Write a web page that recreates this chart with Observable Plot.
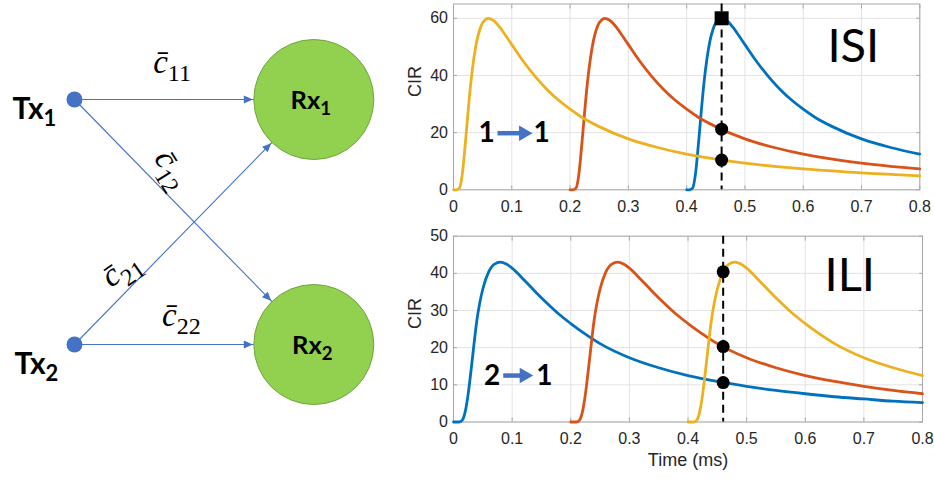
<!DOCTYPE html>
<html>
<head>
<meta charset="utf-8">
<script src="https://cdn.jsdelivr.net/npm/d3@7"></script>
<script src="https://cdn.jsdelivr.net/npm/@observablehq/plot@0.6"></script>
<style>
  body { margin: 0; background: #fff; }
  #fig { position: relative; width: 934px; height: 479px; overflow: hidden; background: #fff; }
  #fig > div { position: absolute; }
</style>
</head>
<body>
<div id="fig">
  <div id="net" style="left:0;top:0"></div>
  <div id="isi" style="left:400px;top:0"></div>
  <div id="ili" style="left:400px;top:222px"></div>
</div>
<script>
// ---- Link diagram: two transmitters, two receivers, four channels ----
const transmitters = [
  {id: "Tx1", name: "Tx_1", row: 1},
  {id: "Tx2", name: "Tx_2", row: 2}
];
const receivers = [
  {id: "Rx1", name: "Rx_1", row: 1},
  {id: "Rx2", name: "Rx_2", row: 2}
];
const channels = [
  {key: "11", from: 1, to: 1, label: "c\u0304_11"},
  {key: "12", from: 1, to: 2, label: "c\u0304_12"},
  {key: "21", from: 2, to: 1, label: "c\u0304_21"},
  {key: "22", from: 2, to: 2, label: "c\u0304_22"}
];

// ---- Channel impulse response of one released pulse, vs time since release (ms) ----
const pulseTime = [0, 0.005, 0.01, 0.015, 0.02, 0.025, 0.03, 0.035, 0.04, 0.045,
  0.05, 0.06, 0.07, 0.08, 0.09, 0.1, 0.12, 0.14, 0.16, 0.18,
  0.2, 0.22, 0.25, 0.3, 0.35, 0.4, 0.45, 0.5, 0.55, 0.6,
  0.65, 0.7, 0.75, 0.8];
// own link (1 -> 1)
const isiPulse = [0, 0, 0.5, 5.3, 15.5, 27.3, 37.9, 46.1, 52.1, 56.0,
  58.4, 60.0, 59.0, 56.7, 53.8, 50.8, 44.9, 39.7, 35.2, 31.4,
  28.2, 25.4, 22.1, 17.8, 14.8, 12.5, 10.7, 9.3, 8.2, 7.3,
  6.6, 5.9, 5.4, 4.9];
// cross link (2 -> 1)
const iliPulse = [0, 0, 0, 0.5, 2.8, 7.5, 14.0, 21.0, 27.5, 32.2,
  35.8, 40.4, 42.5, 43.0, 42.5, 41.4, 38.3, 35.0, 31.9, 29.0,
  26.5, 24.2, 21.1, 17.3, 14.6, 12.5, 10.9, 9.6, 8.5, 7.6,
  6.8, 6.2, 5.6, 5.2];
const releaseTimes = [0, 0.2, 0.4];
const isiColors = ["#EDB120", "#D95319", "#0072BD"];
const iliColors = ["#0072BD", "#D95319", "#EDB120"];

// Sampling instant and the sampled CIR values (one per pulse)
const sampleTime = 0.46;
const isiSamples = [60, 21.2, 10.4];
const isiSampleSymbols = ["square", "circle", "circle"];
const iliSamples = [40.4, 20.3, 10.6];
const iliSampleSymbols = ["circle", "circle", "circle"];

// Axes
const xTicks = [0, 0.1, 0.2, 0.3, 0.4, 0.5, 0.6, 0.7, 0.8];
const xTickLabels = ["0", "0.1", "0.2", "0.3", "0.4", "0.5", "0.6", "0.7", "0.8"];
const isiYTicks = [0, 20, 40, 60];
const iliYTicks = [0, 10, 20, 30, 40, 50];

// ---- styling ----
const ink = "#262626";
const gridColor = "#e3e3e3";
const boxColor = "#a8a8a8";
const linkBlue = "#4472C4";
const svgNS = "http://www.w3.org/2000/svg";

// Split "base_sub" texts into a base and a lowered, smaller subscript
function setSubscripts(svg) {
  d3.select(svg).selectAll("text").each(function () {
    const s = this.textContent;
    const k = s.indexOf("_");
    if (k < 0) return;
    const t = d3.select(this).text(null);
    t.append("tspan").text(s.slice(0, k));
    t.append("tspan")
      .style("font-size", "0.73em")
      .style("font-style", "normal")
      .attr("dy", "0.36em")
      .text(s.slice(k + 1));
  });
}

// Filled arrowhead whose tip stops `back` px before the end of the link
function arrowHead(back) {
  return (color) => {
    const m = document.createElementNS(svgNS, "marker");
    m.setAttribute("markerUnits", "userSpaceOnUse");
    m.setAttribute("orient", "auto");
    m.setAttribute("markerWidth", "12");
    m.setAttribute("markerHeight", "12");
    m.setAttribute("overflow", "visible");
    m.setAttribute("refX", String(back));
    m.setAttribute("refY", "0");
    const p = document.createElementNS(svgNS, "path");
    p.setAttribute("d", "M0,0L-9,-4L-9,4Z");
    p.setAttribute("fill", color);
    p.setAttribute("stroke", "none");
    m.appendChild(p);
    return m;
  };
}

// label placement of the nodes and channel names
const nodeLabel = {
  Tx1: {dx: -62, dy: 19, anchor: "start", size: 30},
  Tx2: {dx: -60, dy: 29, anchor: "start", size: 30},
  Rx1: {dx: -3, dy: 9, anchor: "middle", size: 25.5},
  Rx2: {dx: -1.5, dy: 9, anchor: "middle", size: 25.5}
};
const edgeLabel = {
  "11": {t: 0.408, dy: -27, rotate: 0, lineAnchor: "bottom"},
  "12": {t: 0.41, dy: -31, rotate: 58, lineAnchor: "middle"},
  "21": {t: 0.192, dy: -29, rotate: -35, lineAnchor: "middle"},
  "22": {t: 0.447, dy: -19, rotate: 0, lineAnchor: "bottom"}
};

function diagram(useMarker) {
  const linkOpts = {x1: () => 0, x2: () => 1, y1: "from", y2: "to", stroke: linkBlue, strokeWidth: 1.1};
  const edges = useMarker
    ? Plot.link(channels, {...linkOpts, markerEnd: arrowHead(61)})
    : Plot.arrow(channels, {...linkOpts, insetEnd: 61, headLength: 9, headAngle: 50});
  const nodeText = (d, column) => {
    const L = nodeLabel[d.id];
    return Plot.text([d], {
      x: () => column, y: "row", text: "name",
      textAnchor: L.anchor, lineAnchor: "bottom", dx: L.dx, dy: L.dy,
      fontFamily: "Lato, 'Open Sans', sans-serif", fontWeight: "bold", fontSize: L.size, fill: "#000"
    });
  };
  const edgeText = channels.map((c) => {
    const L = edgeLabel[c.key];
    return Plot.text([c], {
      x: () => L.t, y: (d) => d.from + L.t * (d.to - d.from), text: "label",
      dy: L.dy, rotate: L.rotate, lineAnchor: L.lineAnchor,
      fontFamily: "'Liberation Serif', 'DejaVu Serif', serif", fontStyle: "italic",
      fontSize: 33, fill: "#000"
    });
  });
  return Plot.plot({
    width: 420, height: 479, margin: 0,
    x: {domain: [0, 1], range: [74, 313.3], axis: null},
    y: {domain: [1, 2], range: [99, 344], axis: null},
    style: {background: "transparent", overflow: "visible"},
    marks: [
      edges,
      Plot.dot(receivers, {x: () => 1, y: "row", r: 60, fill: "#92D050", stroke: "#72a53f", strokeWidth: 1}),
      Plot.dot(transmitters, {x: () => 0, y: "row", r: 8, fill: linkBlue}),
      ...transmitters.map((d) => nodeText(d, 0)),
      ...receivers.map((d) => nodeText(d, 1)),
      ...edgeText
    ]
  });
}

let net;
try { net = diagram(true); } catch (e) { net = diagram(false); }
setSubscripts(net);
document.getElementById("net").appendChild(net);

// ---- CIR panels ----
function pulseRows(pulse, release) {
  const rows = [];
  pulseTime.forEach((dt, k) => {
    const t = release + dt;
    if (t <= 0.8 + 1e-9) rows.push({t, v: pulse[k]});
  });
  return rows;
}

function cirPanel(o) {
  const samples = o.samples.map((v, i) => ({v, symbol: o.symbols[i]}));
  const tickAxis = (Axis, ticks, anchor, shift) =>
    Axis({ticks, anchor, tickSize: 4, ...shift, tickFormat: () => "", stroke: boxColor, label: null});
  const marks = [
    Plot.gridX(xTicks, {stroke: gridColor, strokeOpacity: 1}),
    Plot.gridY(o.yTicks, {stroke: gridColor, strokeOpacity: 1}),
    Plot.frame({stroke: boxColor}),
    tickAxis(Plot.axisX, xTicks, "bottom", {dy: -4}),
    tickAxis(Plot.axisX, xTicks, "top", {dy: 4}),
    tickAxis(Plot.axisY, o.yTicks, "left", {dx: 4}),
    tickAxis(Plot.axisY, o.yTicks, "right", {dx: -4}),
    Plot.axisX({ticks: xTicks, anchor: "bottom", tickSize: 0, tickPadding: 11,
      tickFormat: (d) => xTickLabels[xTicks.indexOf(d)], fill: ink, label: null}),
    Plot.axisY({ticks: o.yTicks, anchor: "left", tickSize: 0, tickPadding: 5.5, fill: ink, label: null}),
    Plot.text(["CIR"], {frameAnchor: "left", text: (d) => d, dx: -38, rotate: -90, fontSize: 18, fill: ink}),
    ...o.order.map((i) => Plot.line(pulseRows(o.pulse, releaseTimes[i]), {
      x: "t", y: "v", stroke: o.colors[i], strokeWidth: 2.8, curve: "monotone-x"
    })),
    Plot.ruleX([sampleTime], {stroke: "#000", strokeWidth: 2, strokeDasharray: "8,5"}),
    Plot.dot(samples.filter((d) => d.symbol === "square"), {x: () => sampleTime, y: "v", symbol: "square", r: 7.9, fill: "#000"}),
    Plot.dot(samples.filter((d) => d.symbol === "circle"), {x: () => sampleTime, y: "v", symbol: "circle", r: 6.5, fill: "#000"}),
    Plot.text([o.tag], {x: o.tagAt[0], y: o.tagAt[1], text: (d) => d,
      fontFamily: "Lato, 'Open Sans', sans-serif", fontSize: 47, fill: "#000"}),
    Plot.text(o.route, {x: (d, i) => o.routeAt.labelX[i], y: () => o.routeAt.y, text: (d) => d,
      fontFamily: "Lato, 'Open Sans', sans-serif", fontWeight: "bold", fontSize: 28, fill: "#000"}),
    Plot.link([o.routeAt], {x1: "x1", x2: "x2", y1: "y", y2: "y", stroke: linkBlue, strokeWidth: 4.5}),
    Plot.dot([o.routeAt], {x: "head", y: "y", symbol: "triangle", rotate: 90, r: 5.8, fill: linkBlue})
  ];
  if (o.xLabel) {
    marks.push(Plot.text([o.xLabel], {frameAnchor: "bottom", text: (d) => d, dy: 43.5, fontSize: 18, fill: ink}));
  }
  return Plot.plot({
    width: 534, height: o.height,
    marginLeft: 53, marginRight: o.marginRight, marginTop: o.marginTop, marginBottom: o.marginBottom,
    x: {domain: [0, 0.8], axis: null},
    y: {domain: [0, o.yMax], axis: null},
    style: {fontFamily: "'Liberation Sans', Arial, sans-serif", fontSize: "16px", color: ink,
      background: "transparent", overflow: "visible"},
    marks
  });
}

document.getElementById("isi").appendChild(cirPanel({
  pulse: isiPulse, colors: isiColors, order: [2, 1, 0],
  samples: isiSamples, symbols: isiSampleSymbols,
  yMax: 65, yTicks: isiYTicks,
  height: 222, marginTop: 3.5, marginBottom: 32.7, marginRight: 14.7,
  tag: "ISI", tagAt: [0.686, 50],
  route: ["1", "1"], routeAt: {labelX: [0.0567, 0.1511], y: 19.8, x1: 0.0755, x2: 0.115, head: 0.1202}
}));

document.getElementById("ili").appendChild(cirPanel({
  pulse: iliPulse, colors: iliColors, order: [0, 1, 2],
  samples: iliSamples, symbols: iliSampleSymbols,
  yMax: 50, yTicks: iliYTicks,
  height: 257, marginTop: 13.7, marginBottom: 57.5, marginRight: 12,
  tag: "ILI", tagAt: [0.676, 39.4],
  route: ["2", "1"], routeAt: {labelX: [0.0657, 0.1552], y: 12.5, x1: 0.0848, x2: 0.115, head: 0.1206},
  xLabel: "Time (ms)"
}));
</script>
</body>
</html>
